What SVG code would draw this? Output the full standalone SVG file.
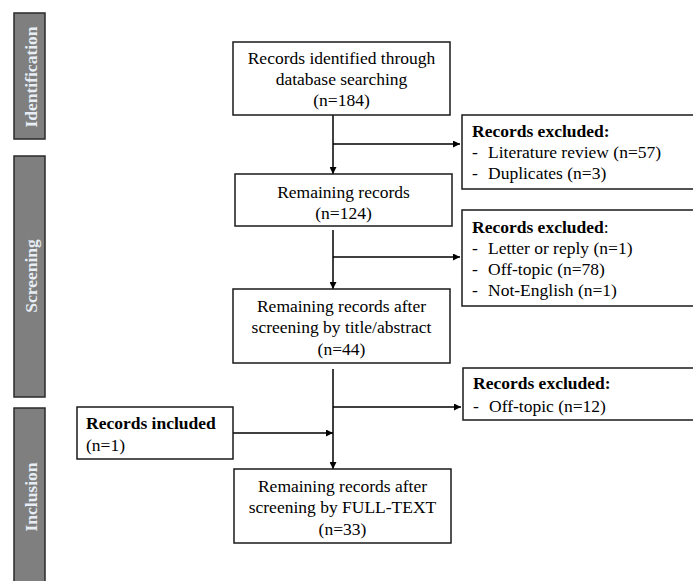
<svg xmlns="http://www.w3.org/2000/svg" width="693" height="581" viewBox="0 0 693 581">
<defs>
<marker id="ah" viewBox="0 0 10 10" refX="10" refY="5" markerWidth="7" markerHeight="7" markerUnits="userSpaceOnUse" orient="auto">
<path d="M0,0 L10,5 L0,10 z" fill="#000"/>
</marker>
<style>
.box{fill:#fff;stroke:#1a1a1a;stroke-width:1.5}
.bar{fill:#7f7f7f;stroke:#2a2a2a;stroke-width:1.5}
.bt{font-family:"Liberation Serif",serif;font-weight:bold;font-size:17.5px;fill:#e6edf5}
.t{font-family:"Liberation Serif",serif;font-size:17.5px;fill:#000}
.c{text-anchor:middle}
.b{font-weight:bold}
.ln{stroke:#000;stroke-width:1.5;fill:none}
</style>
</defs>
<rect width="693" height="581" fill="#fff"/>
<g id="phase-identification">
<rect class="bar" x="14" y="13" width="31" height="126"/>
<text class="bt c" transform="translate(37,77) rotate(-90)">Identification</text>
</g>
<g id="phase-screening">
<rect class="bar" x="14" y="156" width="31" height="241"/>
<text class="bt c" transform="translate(37,276) rotate(-90)">Screening</text>
</g>
<g id="phase-inclusion">
<rect class="bar" x="14" y="408" width="31" height="185"/>
<text class="bt c" transform="translate(37,497) rotate(-90)">Inclusion</text>
</g>
<g id="connectors">
<line class="ln" x1="333" y1="115" x2="333" y2="174" marker-end="url(#ah)"/>
<line class="ln" x1="333" y1="144" x2="460" y2="144" marker-end="url(#ah)"/>
<line class="ln" x1="333" y1="230" x2="333" y2="289" marker-end="url(#ah)"/>
<line class="ln" x1="333" y1="257" x2="460" y2="257" marker-end="url(#ah)"/>
<line class="ln" x1="333" y1="369" x2="333" y2="469" marker-end="url(#ah)"/>
<line class="ln" x1="333" y1="407" x2="461" y2="407" marker-end="url(#ah)"/>
<line class="ln" x1="233" y1="433" x2="333" y2="433" marker-end="url(#ah)"/>
</g>
<g id="records-identified">
<rect class="box" x="233" y="42" width="217" height="73"/>
<text class="t c" x="341.5" y="64">Records identified through</text>
<text class="t c" x="341.5" y="85">database searching</text>
<text class="t c" x="341.5" y="106">(n=184)</text>
</g>
<g id="excluded-1">
<rect class="box" x="462" y="115" width="240" height="74"/>
<text class="t b" x="472" y="137">Records excluded:</text>
<text class="t" x="472" y="158">-</text>
<text class="t" x="488" y="158">Literature review (n=57)</text>
<text class="t" x="472" y="179">-</text>
<text class="t" x="488" y="179">Duplicates (n=3)</text>
</g>
<g id="remaining-records">
<rect class="box" x="235" y="174" width="217" height="52"/>
<text class="t c" x="343.5" y="198">Remaining records</text>
<text class="t c" x="343.5" y="219">(n=124)</text>
</g>
<g id="excluded-2">
<rect class="box" x="462" y="210" width="240" height="96"/>
<text class="t" x="472" y="233"><tspan class="b">Records excluded</tspan>:</text>
<text class="t" x="472" y="254">-</text>
<text class="t" x="488" y="254">Letter or reply (n=1)</text>
<text class="t" x="472" y="275">-</text>
<text class="t" x="488" y="275">Off-topic (n=78)</text>
<text class="t" x="472" y="296">-</text>
<text class="t" x="488" y="296">Not-English (n=1)</text>
</g>
<g id="remaining-title-abstract">
<rect class="box" x="233" y="289" width="217" height="74"/>
<text class="t c" x="341.5" y="312">Remaining records after</text>
<text class="t c" x="341.5" y="333">screening by title/abstract</text>
<text class="t c" x="341.5" y="355">(n=44)</text>
</g>
<g id="excluded-3">
<rect class="box" x="463" y="368" width="240" height="52"/>
<text class="t b" x="473" y="389">Records excluded:</text>
<text class="t" x="473" y="412">-</text>
<text class="t" x="489" y="412">Off-topic (n=12)</text>
</g>
<g id="records-included">
<rect class="box" x="77" y="407" width="156" height="52"/>
<text class="t b" x="86" y="429">Records included</text>
<text class="t" x="86" y="451">(n=1)</text>
</g>
<g id="remaining-full-text">
<rect class="box" x="234" y="469" width="217" height="74"/>
<text class="t c" x="342.5" y="492">Remaining records after</text>
<text class="t c" x="342.5" y="513">screening by FULL-TEXT</text>
<text class="t c" x="342.5" y="535">(n=33)</text>
</g>
</svg>
